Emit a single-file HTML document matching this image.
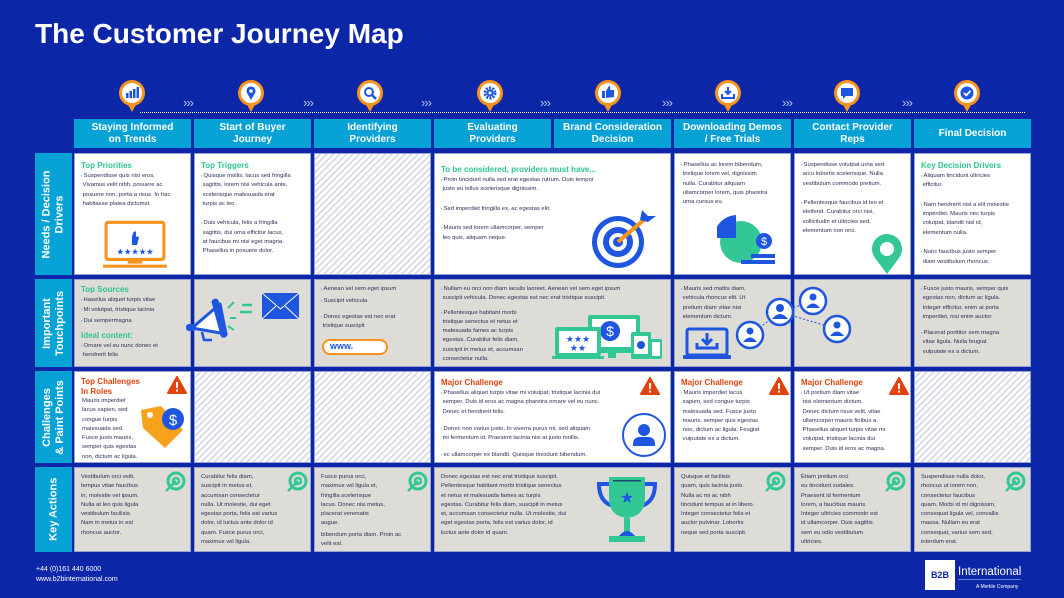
<!DOCTYPE html>
<html><head><meta charset="utf-8"><style>
*{margin:0;padding:0;box-sizing:border-box}
body{width:1064px;height:598px;background:#0c26a8;position:relative;overflow:hidden;font-family:"Liberation Sans",sans-serif}
.a{position:absolute}
.h{position:absolute;top:119px;height:29px;width:117px;background:#06a2d6;color:#fff;font-weight:bold;font-size:10px;line-height:11.5px;text-align:center;display:flex;align-items:center;justify-content:center}
.c{position:absolute;border:1px solid #9aa3cf;padding:6px 6px;font-size:5.9px;line-height:9.3px;color:#2b2f55}
.w{background:#fff}.g{background:#dedcd7}
.x{background:repeating-linear-gradient(135deg,#fff 0 3px,#d6d9e8 3px 4.6px)}
.t{color:#2ec48f;font-weight:bold;font-size:8px;line-height:11px}
.r{color:#e0430f;font-weight:bold;font-size:8px;line-height:10px}
.rl{position:absolute;left:35px;width:37px;background:#06a2d6;color:#fff;font-weight:bold;font-size:11px;line-height:12.5px;display:flex;align-items:center;justify-content:center}
.rl span{transform:rotate(-90deg);white-space:nowrap;text-align:center}
p{margin:0}
.b::before{content:"▪ ";color:#1ea3d8;font-size:4px}
.pin{position:absolute;top:79px;width:28px;height:34px}
.chev{position:absolute;top:95px;color:#b6c2f3;font-size:13px;letter-spacing:-1px}
</style></head><body>
<div class="a" style="left:35px;top:18px;color:#fff;font-weight:bold;font-size:28px">The Customer Journey Map</div>

<div class="a" style="left:140px;top:112px;width:885px;border-top:1px dotted #fff"></div>
<div class="chev" style="left:183px">›››</div><div class="chev" style="left:303px">›››</div><div class="chev" style="left:421px">›››</div><div class="chev" style="left:540px">›››</div><div class="chev" style="left:662px">›››</div><div class="chev" style="left:782px">›››</div><div class="chev" style="left:902px">›››</div>

<svg class="pin" style="left:118px" viewBox="0 0 28 34"><path d="M9 24 L14 33 L19 24Z" fill="#f7941d"/><circle cx="14" cy="14" r="13" fill="#f7941d"/><circle cx="14" cy="14" r="10" fill="#fff"/><rect x="8" y="14" width="2.5" height="5" fill="#1e56e0"/><rect x="11.5" y="12" width="2.5" height="7" fill="#1e56e0"/><rect x="15" y="10" width="2.5" height="9" fill="#1e56e0"/><rect x="18.5" y="8" width="2.5" height="11" fill="#1e56e0"/></svg>
<svg class="pin" style="left:237px" viewBox="0 0 28 34"><path d="M9 24 L14 33 L19 24Z" fill="#f7941d"/><circle cx="14" cy="14" r="13" fill="#f7941d"/><circle cx="14" cy="14" r="10" fill="#fff"/><path d="M14 21 L10 14 A4.5 4.5 0 1 1 18 14Z" fill="#1e56e0"/><circle cx="14" cy="12" r="1.8" fill="#fff"/></svg>
<svg class="pin" style="left:356px" viewBox="0 0 28 34"><path d="M9 24 L14 33 L19 24Z" fill="#f7941d"/><circle cx="14" cy="14" r="13" fill="#f7941d"/><circle cx="14" cy="14" r="10" fill="#fff"/><circle cx="13" cy="13" r="4" fill="none" stroke="#1e56e0" stroke-width="2"/><path d="M16 16 L20 20" stroke="#1e56e0" stroke-width="2.5"/></svg>
<svg class="pin" style="left:476px" viewBox="0 0 28 34"><path d="M9 24 L14 33 L19 24Z" fill="#f7941d"/><circle cx="14" cy="14" r="13" fill="#f7941d"/><circle cx="14" cy="14" r="10" fill="#fff"/><circle cx="14" cy="14" r="5" fill="none" stroke="#1e56e0" stroke-width="3" stroke-dasharray="2 1.2"/><circle cx="14" cy="14" r="3.5" fill="#1e56e0"/><circle cx="14" cy="14" r="1.5" fill="#fff"/></svg>
<svg class="pin" style="left:594px" viewBox="0 0 28 34"><path d="M9 24 L14 33 L19 24Z" fill="#f7941d"/><circle cx="14" cy="14" r="13" fill="#f7941d"/><circle cx="14" cy="14" r="10" fill="#fff"/><rect x="8" y="12" width="3" height="7" fill="#1e56e0"/><path d="M12 12 L15 7 Q17 7 16 11 L20 11 Q21 12 20 13 L20 18 L12 19Z" fill="#1e56e0"/></svg>
<svg class="pin" style="left:714px" viewBox="0 0 28 34"><path d="M9 24 L14 33 L19 24Z" fill="#f7941d"/><circle cx="14" cy="14" r="13" fill="#f7941d"/><circle cx="14" cy="14" r="10" fill="#fff"/><path d="M8 15 L8 19 L20 19 L20 15" fill="none" stroke="#1e56e0" stroke-width="2"/><path d="M14 8 L14 15 M11 12 L14 15 L17 12" fill="none" stroke="#1e56e0" stroke-width="2"/></svg>
<svg class="pin" style="left:833px" viewBox="0 0 28 34"><path d="M9 24 L14 33 L19 24Z" fill="#f7941d"/><circle cx="14" cy="14" r="13" fill="#f7941d"/><circle cx="14" cy="14" r="10" fill="#fff"/><path d="M8 9 L20 9 L20 17 L13 17 L10 20 L10 17 L8 17Z" fill="#1e56e0"/></svg>
<svg class="pin" style="left:953px" viewBox="0 0 28 34"><path d="M9 24 L14 33 L19 24Z" fill="#f7941d"/><circle cx="14" cy="14" r="13" fill="#f7941d"/><circle cx="14" cy="14" r="10" fill="#fff"/><circle cx="14" cy="14" r="6.5" fill="#1e56e0"/><path d="M11 14 L13.3 16.3 L17.5 11.8" fill="none" stroke="#fff" stroke-width="1.8"/></svg>

<div class="h" style="left:74px">Staying Informed<br>on Trends</div>
<div class="h" style="left:194px">Start of Buyer<br>Journey</div>
<div class="h" style="left:314px">Identifying<br>Providers</div>
<div class="h" style="left:434px">Evaluating<br>Providers</div>
<div class="h" style="left:554px">Brand Consideration<br>Decision</div>
<div class="h" style="left:674px">Downloading Demos<br>/ Free Trials</div>
<div class="h" style="left:794px">Contact Provider<br>Reps</div>
<div class="h" style="left:914px">Final Decision</div>

<div class="rl" style="top:153px;height:122px"><span>Needs / Decision<br>Drivers</span></div>
<div class="rl" style="top:279px;height:88px"><span>Important<br>Touchpoints</span></div>
<div class="rl" style="top:371px;height:92px"><span>Challenges<br>&amp; Paint Points</span></div>
<div class="rl" style="top:467px;height:85px"><span>Key Actions</span></div>

<!-- Row 1 -->
<div class="c w" style="left:74px;top:153px;width:117px;height:122px"><div class="t">Top Priorities</div><p class="b">Suspendisse quis nisi eros.<br>&nbsp;Vivamus velit nibh, posuere ac<br>&nbsp;posuere non, porta a risus. In hac<br>&nbsp;habitasse platea dictumst.</p>
<svg class="a" style="left:28px;top:66px" width="64" height="50" viewBox="0 0 62 48"><rect x="3" y="2" width="56" height="36" rx="2" fill="none" stroke="#f7941d" stroke-width="3"/><rect x="24" y="38" width="14" height="4" fill="#f7941d"/><rect x="0" y="43" width="62" height="3" fill="#f7941d"/><path d="M28 16 L28 24 L33 24 L35 16 L32 16 L32 11 Q30 10 29 13Z" fill="#1e56e0"/><text x="31" y="33" fill="#1e56e0" font-size="8" text-anchor="middle">★★★★★</text></svg></div>
<div class="c w" style="left:194px;top:153px;width:117px;height:122px"><div class="t">Top Triggers</div><p class="b">Quisque mollis, lacus sed fringilla<br>&nbsp;sagittis, lorem nisi vehicula ante,<br>&nbsp;scelerisque malesuada erat<br>&nbsp;turpis ac leo.</p><br><p class="b">Duis vehicula, felis a fringilla<br>&nbsp;sagittis, dui urna efficitur lacus,<br>&nbsp;at faucibus mi nisi eget magna.<br>&nbsp;Phasellus in posuere dolor.</p></div>
<div class="c x" style="left:314px;top:153px;width:117px;height:122px"></div>
<div class="c w" style="left:434px;top:153px;width:237px;height:122px;padding-top:10px"><div class="t">To be considered, providers must have...</div><p class="b">Proin tincidunt nulla sed erat egestas rutrum. Duis tempor<br>&nbsp;justo eu tellus scelerisque dignissim.</p><br><p class="b">Sed imperdiet fringilla ex, ac egestas elit.</p><br><p class="b">Mauris sed lorem ullamcorper, semper<br>&nbsp;leo quis, aliquam neque.</p>
<svg class="a" style="left:155px;top:50px" width="68" height="66" viewBox="0 0 68 66"><circle cx="28" cy="38" r="26" fill="#1e56e0"/><circle cx="28" cy="38" r="21" fill="#fff"/><circle cx="28" cy="38" r="15" fill="#1e56e0"/><circle cx="28" cy="38" r="9" fill="#fff"/><circle cx="28" cy="38" r="5" fill="#1e56e0"/><path d="M28 38 L56 14" stroke="#f7941d" stroke-width="4"/><path d="M52 6 L58 12 L66 12 L58 18 L50 16Z" fill="#1e56e0"/></svg></div>
<div class="c w" style="left:674px;top:153px;width:117px;height:122px"><p class="b">Phasellus ac lorem bibendum,<br>&nbsp;tristique lorem vel, dignissim<br>&nbsp;nulla. Curabitur aliquam<br>&nbsp;ullamcorper lorem, quis pharetra<br>&nbsp;urna cursus eu.</p>
<svg class="a" style="left:42px;top:60px" width="60" height="56" viewBox="0 0 60 56"><circle cx="24" cy="28" r="21" fill="#34c796"/><path d="M20 24 L20 1 A23 23 0 0 0 -2 24Z" fill="#1e56e0" transform="translate(-1,0)"/><circle cx="47" cy="27" r="8" fill="#1e56e0"/><text x="47" y="31" fill="#fff" font-size="11" text-anchor="middle">$</text><rect x="34" y="40" width="24" height="4" fill="#1e56e0"/><rect x="24" y="46" width="34" height="4" fill="#1e56e0"/></svg></div>
<div class="c w" style="left:794px;top:153px;width:117px;height:122px"><p class="b">Suspendisse volutpat urna sed<br>&nbsp;arcu lobortis scelerisque. Nulla<br>&nbsp;vestibulum commodo pretium.</p><br><p class="b">Pellentesque faucibus id leo et<br>&nbsp;eleifend. Curabitur orci nisi,<br>&nbsp;sollicitudin et ultricies sed,<br>&nbsp;elementum non orci.</p>
<svg class="a" style="left:76px;top:80px" width="32" height="40" viewBox="0 0 32 40"><path d="M16 40 L4 24 A15 15 0 1 1 28 24Z" fill="#34c796"/><circle cx="16" cy="15" r="7" fill="#fff"/></svg></div>
<div class="c w" style="left:914px;top:153px;width:117px;height:122px"><div class="t">Key Decision Drivers</div><p class="b">Aliquam tincidunt ultricies<br>&nbsp;efficitur.</p><br><p class="b">Nam hendrerit nisl a elit molestie<br>&nbsp;imperdiet. Mauris nec turpis<br>&nbsp;volutpat, blandit nisl id,<br>&nbsp;elementum nulla.</p><br><p class="b">Nunc faucibus justo semper<br>&nbsp;diam vestibulum rhoncus.</p></div>

<!-- Row 2 -->
<div class="c g" style="left:74px;top:279px;width:117px;height:88px;padding-top:4px"><div class="t">Top Sources</div><p class="b">Haseilus aliquet turpis vitae</p><p class="b">Mi volutpat, tristique lacinia</p><p class="b">Dui sempermagna</p><div class="t" style="margin-top:4px">Ideal content:</div><p class="b">Ornare vel eu nunc donec et<br>&nbsp;hendrerit felis</p></div>
<div class="c g" style="left:194px;top:279px;width:117px;height:88px"></div>
<svg class="a" style="left:176px;top:290px" width="130" height="60" viewBox="0 0 130 60"><path d="M16 38 L44 14 L50 44Z" fill="#fff" stroke="#1e56e0" stroke-width="3" stroke-linejoin="round"/><rect x="40" y="8" width="7" height="40" rx="3" fill="#1e56e0" transform="rotate(-15 44 28)"/><rect x="10" y="34" width="10" height="7" rx="3" fill="#1e56e0"/><path d="M26 42 L28 50 L36 50" fill="none" stroke="#1e56e0" stroke-width="2.5"/><path d="M52 18 L58 12 M54 28 L60 28 M52 36 L58 40" stroke="#34c796" stroke-width="2"/><path d="M66 15 L76 15 M64 22 L76 22" stroke="#34c796" stroke-width="2.5"/><rect x="86" y="3" width="37" height="26" fill="#1e56e0"/><path d="M86 3 L104.5 19 L123 3 M86 29 L100 16 M123 29 L109 16" fill="none" stroke="#fff" stroke-width="1"/></svg>
<div class="c g" style="left:314px;top:279px;width:117px;height:88px;padding-top:4px"><p class="b">Aenean vel sem eget ipsum</p><p class="b" style="margin-top:2px">Suscipit vehicula</p><p class="b" style="margin-top:5px">Donec egestas est nec erat<br>&nbsp;tristique suscipit</p>
<div class="a" style="left:7px;top:59px;width:66px;height:16px;border:2.5px solid #f7941d;border-radius:8px;background:#fff;color:#1e56e0;font-weight:bold;font-size:9px;line-height:11px;padding-left:6px">www.</div></div>
<div class="c g" style="left:434px;top:279px;width:237px;height:88px;padding-top:4px"><p class="b">Nullam eu orci non diam iaculis laoreet. Aenean vel sem eget ipsum<br>&nbsp;suscipit vehicula. Donec egestas est nec erat tristique suscipit.</p><p class="b" style="margin-top:4px">Pellentesque habitant morbi<br>&nbsp;tristique senectus et netus et<br>&nbsp;malesuada fames ac turpis<br>&nbsp;egestas. Curabitur felis diam,<br>&nbsp;suscipit in metus et, accumsan<br>&nbsp;consectetur nulla.</p>
<svg class="a" style="left:115px;top:32px" width="115" height="50" viewBox="0 0 115 50"><rect x="38" y="3" width="52" height="38" rx="2" fill="#34c796"/><rect x="42" y="7" width="44" height="28" fill="#fff"/><circle cx="60" cy="19" r="10" fill="#1e56e0"/><text x="60" y="24" font-size="14" fill="#fff" text-anchor="middle">$</text><rect x="58" y="41" width="8" height="5" fill="#34c796"/><rect x="5" y="15" width="46" height="29" rx="2" fill="#34c796"/><rect x="9" y="19" width="38" height="22" fill="#fff"/><rect x="2" y="44" width="52" height="3" fill="#34c796"/><text x="28" y="30" font-size="9" fill="#1e56e0" text-anchor="middle">★★★</text><text x="28" y="39" font-size="9" fill="#1e56e0" text-anchor="middle">★★</text><rect x="81" y="20" width="20" height="27" rx="2" fill="#34c796"/><rect x="84" y="24" width="14" height="18" fill="#fff"/><circle cx="91" cy="33" r="4" fill="#1e56e0"/><rect x="100" y="27" width="12" height="20" rx="2" fill="#34c796"/><rect x="102" y="30" width="8" height="14" fill="#fff"/></svg></div>
<div class="c g" style="left:674px;top:279px;width:117px;height:88px;padding-top:4px"><p class="b">Mauris sed mattis diam,<br>&nbsp;vehicula rhoncus elit. Ut<br>&nbsp;pretium diam vitae nisi<br>&nbsp;elementum dictum.</p>
<svg class="a" style="left:8px;top:47px" width="48" height="33" viewBox="0 0 48 33"><rect x="4" y="2" width="40" height="26" rx="2" fill="none" stroke="#1e56e0" stroke-width="3"/><rect x="0" y="28" width="48" height="4" rx="1" fill="#1e56e0"/><path d="M14 16 L14 21 L34 21 L34 16" fill="none" stroke="#1e56e0" stroke-width="3"/><path d="M24 6 L24 17 M19 12 L24 17 L29 12" fill="none" stroke="#1e56e0" stroke-width="3"/></svg></div>
<div class="c g" style="left:794px;top:279px;width:117px;height:88px"></div>
<svg class="a" style="left:735px;top:285px" width="135" height="80" viewBox="0 0 135 80"><path d="M15 50 L45 27 L78 16 M45 27 L102 44" stroke="#1e56e0" stroke-width="1" stroke-dasharray="2 2" fill="none"/><g fill="#fff" stroke="#1e56e0" stroke-width="2.5"><circle cx="45" cy="27" r="13"/><circle cx="15" cy="50" r="13"/><circle cx="78" cy="16" r="13"/><circle cx="102" cy="44" r="13"/></g><g fill="#1e56e0"><circle cx="45" cy="23" r="4"/><path d="M37 34 Q45 24 53 34Z"/><circle cx="15" cy="46" r="3.5"/><path d="M8 57 Q15 48 22 57Z"/><circle cx="78" cy="12" r="3.5"/><path d="M71 23 Q78 14 85 23Z"/><circle cx="102" cy="40" r="3.5"/><path d="M95 51 Q102 42 109 51Z"/></g></svg>
<div class="c g" style="left:914px;top:279px;width:117px;height:88px;padding-top:4px"><p class="b">Fusce justo mauris, semper quis<br>&nbsp;egestas non, dictum ac ligula.<br>&nbsp;Integer efficitur, enim at porta<br>&nbsp;imperdiet, nisi enim auctor.</p><p class="b" style="margin-top:6px">Placerat porttitor sem magna<br>&nbsp;vitae ligula. Nulla feugiat<br>&nbsp;vulputate ex a dictum.</p></div>

<!-- Row 3 -->
<div class="c w" style="left:74px;top:371px;width:117px;height:92px;padding-top:5px"><div class="r">Top Challenges<br>In Roles</div><p style="padding-left:1px">Mauris imperdiet<br>lacus sapien, sed<br>congue turpis<br>malesuada sed.<br>Fusce justo mauris,<br>semper quis egestas<br>non, dictum ac ligula.</p>
<svg class="a" style="left:92px;top:4px" width="20" height="18" viewBox="0 0 20 18"><path d="M10 1 L19 17 L1 17Z" fill="#e0430f" stroke="#e0430f" stroke-linejoin="round" stroke-width="2"/><rect x="9" y="6" width="2" height="6" fill="#fff"/><rect x="9" y="13.5" width="2" height="2" fill="#fff"/></svg>
<svg class="a" style="left:64px;top:30px" width="50" height="48" viewBox="0 0 50 48"><path d="M2 8 L22 4 L44 28 L26 46 L4 26Z" fill="#f7a21d"/><circle cx="11" cy="13" r="3" fill="#fff"/><circle cx="34" cy="17" r="11" fill="#1e56e0"/><text x="34" y="23" font-size="15" fill="#fff" text-anchor="middle">$</text></svg></div>
<div class="c x" style="left:194px;top:371px;width:117px;height:92px"></div>
<div class="c x" style="left:314px;top:371px;width:117px;height:92px"></div>
<div class="c w" style="left:434px;top:371px;width:237px;height:92px;padding-top:6px"><div class="r">Major Challenge</div><p class="b">Phasellus aliquet turpis vitae mi volutpat, tristique lacinia dui<br>&nbsp;semper. Duis id eros ac magna pharetra ornare vel eu nunc.<br>&nbsp;Donec et hendrerit felis.</p><p class="b" style="margin-top:7px">Donec non varius justo. In viverra purus mi, sed aliquam<br>&nbsp;mi fermentum id. Praesent lacinia nisi at justo mollis.</p><p class="b" style="margin-top:7px">ec ullamcorper ex blandit. Quisque tincidunt bibendum.</p>
<svg class="a" style="left:205px;top:5px" width="20" height="18" viewBox="0 0 20 18"><path d="M10 1 L19 17 L1 17Z" fill="#e0430f" stroke="#e0430f" stroke-linejoin="round" stroke-width="2"/><rect x="9" y="6" width="2" height="6" fill="#fff"/><rect x="9" y="13.5" width="2" height="2" fill="#fff"/></svg>
<svg class="a" style="left:186px;top:40px" width="46" height="46" viewBox="0 0 46 46"><circle cx="23" cy="23" r="21" fill="#fff" stroke="#1e56e0" stroke-width="2"/><circle cx="23" cy="18" r="6" fill="#1e56e0"/><path d="M12 32 Q12 25 19 25 L27 25 Q34 25 34 32 L34 34 L12 34Z" fill="#1e56e0"/></svg></div>
<div class="c w" style="left:674px;top:371px;width:117px;height:92px;padding-top:6px"><div class="r">Major Challenge</div><p class="b">Mauris imperdiet lacus<br>&nbsp;sapien, sed congue turpis<br>&nbsp;malesuada sed. Fusce justo<br>&nbsp;mauris, semper quis egestas<br>&nbsp;non, dictum ac ligula. Feugiat<br>&nbsp;vulputate ex a dictum.</p>
<svg class="a" style="left:94px;top:5px" width="20" height="18" viewBox="0 0 20 18"><path d="M10 1 L19 17 L1 17Z" fill="#e0430f" stroke="#e0430f" stroke-linejoin="round" stroke-width="2"/><rect x="9" y="6" width="2" height="6" fill="#fff"/><rect x="9" y="13.5" width="2" height="2" fill="#fff"/></svg></div>
<div class="c w" style="left:794px;top:371px;width:117px;height:92px;padding-top:6px"><div class="r">Major Challenge</div><p class="b">Ut pretium diam vitae<br>&nbsp;nisi elementum dictum.<br>&nbsp;Donec dictum risus velit, vitae<br>&nbsp;ullamcorper mauris finibus a.<br>&nbsp;Phasellus aliquet turpis vitae mi<br>&nbsp;volutpat, tristique lacinia dui<br>&nbsp;semper. Duis id eros ac magna.</p>
<svg class="a" style="left:94px;top:5px" width="20" height="18" viewBox="0 0 20 18"><path d="M10 1 L19 17 L1 17Z" fill="#e0430f" stroke="#e0430f" stroke-linejoin="round" stroke-width="2"/><rect x="9" y="6" width="2" height="6" fill="#fff"/><rect x="9" y="13.5" width="2" height="2" fill="#fff"/></svg></div>
<div class="c x" style="left:914px;top:371px;width:117px;height:92px"></div>

<!-- Row 4 -->
<div class="c g" style="left:74px;top:467px;width:117px;height:85px;padding-top:5px"><p>Vestibulum orci velit,<br>tempus vitae faucibus<br>in, molestie vel ipsum.<br>Nulla at leo quis ligula<br>vestibulum facilisis.<br>Nam in metus in est<br>rhoncus auctor.</p></div>
<div class="c g" style="left:194px;top:467px;width:117px;height:85px;padding-top:5px"><p>Curabitur felis diam,<br>suscipit in metus et,<br>accumsan consectetur<br>nulla. Ut molestie, dui eget<br>egestas porta, felis est varius<br>dolor, id luctus ante dolor id<br>quam. Fusce purus orci,<br>maximus vel ligula.</p></div>
<div class="c g" style="left:314px;top:467px;width:117px;height:85px;padding-top:5px"><p>Fusce purus orci,<br>maximus vel ligula et,<br>fringilla scelerisque<br>lacus. Donec nisi metus,<br>placerat venenatis<br>augue.</p><p style="margin-top:2px">bibendum porta diam. Proin ac<br>velit est.</p></div>
<div class="c g" style="left:434px;top:467px;width:237px;height:85px;padding-top:5px"><p>Donec egestas est nec erat tristique suscipit.<br>Pellentesque habitant morbi tristique senectus<br>et netus et malesuada fames ac turpis<br>egestas. Curabitur felis diam, suscipit in metus<br>et, accumsan consectetur nulla. Ut molestie, dui<br>eget egestas porta, felis est varius dolor, id<br>luctus ante dolor id quam.</p>
<svg class="a" style="left:160px;top:8px" width="64" height="68" viewBox="0 0 64 68"><path d="M14 8 L4 8 Q4 26 18 30" fill="none" stroke="#1e56e0" stroke-width="4"/><path d="M50 8 L60 8 Q60 26 46 30" fill="none" stroke="#1e56e0" stroke-width="4"/><path d="M14 1 L50 1 L50 22 Q50 40 32 42 Q14 40 14 22Z" fill="#34c796"/><rect x="18" y="4" width="28" height="1.5" fill="#1b4d6e"/><text x="32" y="27" font-size="16" fill="#1e56e0" text-anchor="middle">★</text><rect x="29" y="42" width="6" height="14" fill="#34c796"/><path d="M24 60 Q32 50 40 60Z" fill="#1e56e0"/><rect x="14" y="60" width="36" height="6" fill="#34c796"/></svg></div>
<div class="c g" style="left:674px;top:467px;width:117px;height:85px;padding-top:5px"><p>Quisque et facilisis<br>quam, quis lacinia justo.<br>Nulla ac mi ac nibh<br>tincidunt tempus at in libero.<br>Integer consectetur felis et<br>auctor pulvinar. Lobortis<br>neque sed porta suscipit.</p></div>
<div class="c g" style="left:794px;top:467px;width:117px;height:85px;padding-top:5px"><p>Etiam pretium orci<br>eu tincidunt sodales.<br>Praesent id fermentum<br>lorem, a faucibus mauris.<br>Integer ultricies commodo est<br>id ullamcorper. Duis sagittis<br>sem eu odio vestibulum<br>ultricies.</p></div>
<div class="c g" style="left:914px;top:467px;width:117px;height:85px;padding-top:5px"><p>Suspendisse nulla dolor,<br>rhoncus ut lorem non,<br>consectetur faucibus<br>quam. Morbi id mi dignissim,<br>consequat ligula vel, convallis<br>massa. Nullam eu erat<br>consequat, varius sem sed,<br>interdum erat.</p></div>

<!-- key action target icons -->
<svg class="a" style="left:164px;top:471px" width="22" height="22" viewBox="0 0 22 22"><circle cx="12" cy="10" r="8" fill="none" stroke="#34c796" stroke-width="3"/><circle cx="12" cy="10" r="3" fill="none" stroke="#34c796" stroke-width="2.5"/><path d="M12 10 L2 20" stroke="#34c796" stroke-width="2.5"/></svg>
<svg class="a" style="left:286px;top:471px" width="22" height="22" viewBox="0 0 22 22"><circle cx="12" cy="10" r="8" fill="none" stroke="#34c796" stroke-width="3"/><circle cx="12" cy="10" r="3" fill="none" stroke="#34c796" stroke-width="2.5"/><path d="M12 10 L2 20" stroke="#34c796" stroke-width="2.5"/></svg>
<svg class="a" style="left:406px;top:471px" width="22" height="22" viewBox="0 0 22 22"><circle cx="12" cy="10" r="8" fill="none" stroke="#34c796" stroke-width="3"/><circle cx="12" cy="10" r="3" fill="none" stroke="#34c796" stroke-width="2.5"/><path d="M12 10 L2 20" stroke="#34c796" stroke-width="2.5"/></svg>
<svg class="a" style="left:764px;top:471px" width="22" height="22" viewBox="0 0 22 22"><circle cx="12" cy="10" r="8" fill="none" stroke="#34c796" stroke-width="3"/><circle cx="12" cy="10" r="3" fill="none" stroke="#34c796" stroke-width="2.5"/><path d="M12 10 L2 20" stroke="#34c796" stroke-width="2.5"/></svg>
<svg class="a" style="left:884px;top:471px" width="22" height="22" viewBox="0 0 22 22"><circle cx="12" cy="10" r="8" fill="none" stroke="#34c796" stroke-width="3"/><circle cx="12" cy="10" r="3" fill="none" stroke="#34c796" stroke-width="2.5"/><path d="M12 10 L2 20" stroke="#34c796" stroke-width="2.5"/></svg>
<svg class="a" style="left:1004px;top:471px" width="22" height="22" viewBox="0 0 22 22"><circle cx="12" cy="10" r="8" fill="none" stroke="#34c796" stroke-width="3"/><circle cx="12" cy="10" r="3" fill="none" stroke="#34c796" stroke-width="2.5"/><path d="M12 10 L2 20" stroke="#34c796" stroke-width="2.5"/></svg>

<!-- footer -->
<div class="a" style="left:36px;top:565px;color:#fff;font-size:7px;line-height:10px">+44 (0)161 440 6000<br>www.b2binternational.com</div>
<div class="a" style="left:925px;top:560px;width:30px;height:30px;background:#fff;color:#0c26a8;font-weight:bold;font-size:9px;line-height:30px;text-align:center">B2B</div>
<div class="a" style="left:958px;top:566px;color:#fff;font-size:11.5px;line-height:13px;border-bottom:1px solid #6c7fd0">International</div>
<div class="a" style="left:976px;top:584px;color:#fff;font-size:5px">A Merkle Company</div>
</body></html>
